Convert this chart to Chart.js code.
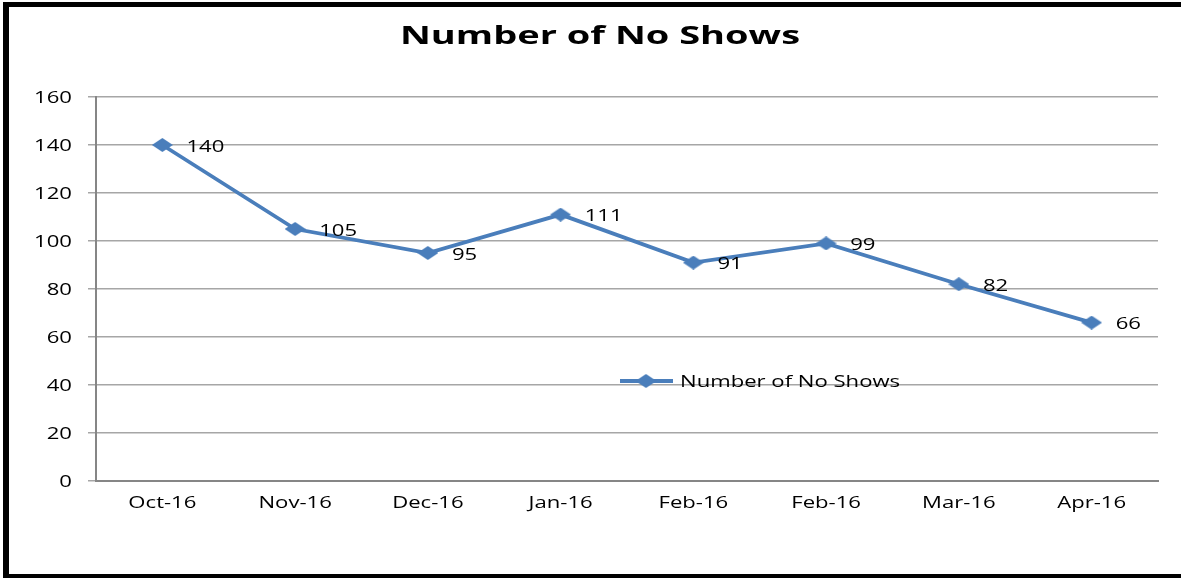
<!DOCTYPE html>
<html>
<head>
<meta charset="utf-8">
<title>Number of No Shows</title>
<script src="https://cdn.jsdelivr.net/npm/chart.js@4"></script>
<style>
  html, body { margin: 0; padding: 0; background: #fff; }
  canvas { display: block; }
</style>
</head>
<body>
<canvas id="graficoNoShows" width="1181" height="578"></canvas>
<script>
const meses = ["Oct-16", "Nov-16", "Dec-16", "Jan-16", "Feb-16", "Feb-16", "Mar-16", "Apr-16"];
const noShows = [140, 105, 95, 111, 91, 99, 82, 66];
const eixoY = { min: 0, max: 160, passo: 20 };
const tituloGrafico = "Number of No Shows";
const nomeSerie = "Number of No Shows";

const azul = "#4a7ebb";
const fonte = "'Open Sans', 'DejaVu Sans', sans-serif";
const fonteTexto = "17px " + fonte;
const largura = 1.3; // textos esticados na horizontal

// marcador em losango, mais largo que alto
function losango(w, h, cor) {
  const c = document.createElement("canvas");
  c.width = w;
  c.height = h;
  const g = c.getContext("2d");
  g.fillStyle = cor;
  g.beginPath();
  g.moveTo(w / 2, 0);
  g.lineTo(w, h / 2);
  g.lineTo(w / 2, h);
  g.lineTo(0, h / 2);
  g.closePath();
  g.fill();
  return c;
}
const marcador = losango(21, 14, azul);

function escrever(ctx, texto, x, y, alinhamento, fonteCss, sx) {
  ctx.save();
  ctx.font = fonteCss;
  ctx.fillStyle = "#000";
  ctx.textAlign = alinhamento;
  ctx.textBaseline = "middle";
  ctx.translate(x, y);
  ctx.scale(sx, 1);
  ctx.fillText(texto, 0, 0);
  ctx.restore();
}

// moldura preta em volta
const moldura = {
  id: "moldura",
  afterDraw(chart) {
    const ctx = chart.ctx;
    ctx.save();
    ctx.fillStyle = "#000";
    ctx.fillRect(3, 2, 6, 576);
    ctx.fillRect(3, 2, 1178, 5);
    ctx.fillRect(3, 574, 1178, 4);
    ctx.restore();
  }
};

const titulo = {
  id: "titulo",
  afterDraw(chart) {
    escrever(chart.ctx, tituloGrafico, 600, 37, "center", "bold 25px " + fonte, 1.52);
  }
};

// rótulos dos eixos desenhados a partir das escalas
const rotulosEixos = {
  id: "rotulosEixos",
  afterDraw(chart) {
    const ctx = chart.ctx;
    const sx = chart.scales.x;
    const sy = chart.scales.y;
    sy.ticks.forEach((t, i) => {
      escrever(ctx, String(t.value), sy.right - 24, sy.getPixelForTick(i) + 1, "right", fonteTexto, largura);
    });
    sx.ticks.forEach((t, i) => {
      escrever(ctx, meses[i], sx.getPixelForTick(i), sx.top + 22, "center", fonteTexto, largura);
    });
  }
};

// valores ao lado de cada ponto
const rotulos = {
  id: "rotulos",
  afterDatasetsDraw(chart) {
    const meta = chart.getDatasetMeta(0);
    meta.data.forEach((pt, i) => {
      escrever(chart.ctx, String(chart.data.datasets[0].data[i]), pt.x + 24, pt.y + 2, "left", fonteTexto, largura);
    });
  }
};

// legenda dentro da área do gráfico
const legenda = {
  id: "legenda",
  afterDraw(chart) {
    const ctx = chart.ctx;
    const ds = chart.data.datasets[0];
    const x = 620, y = 381;
    ctx.save();
    ctx.strokeStyle = ds.borderColor;
    ctx.lineWidth = ds.borderWidth;
    ctx.beginPath();
    ctx.moveTo(x, y);
    ctx.lineTo(x + 53, y);
    ctx.stroke();
    ctx.drawImage(marcador, x + 26 - marcador.width / 2, y - marcador.height / 2);
    ctx.restore();
    escrever(ctx, ds.label, x + 60, y + 1, "left", fonteTexto, largura);
  }
};

function criarGrafico() {
  const ctx = document.getElementById("graficoNoShows").getContext("2d");
  new Chart(ctx, {
    type: "line",
    data: {
      labels: meses,
      datasets: [{
        label: nomeSerie,
        data: noShows,
        borderColor: azul,
        backgroundColor: azul,
        borderWidth: 3.8,
        tension: 0,
        fill: false,
        pointStyle: marcador,
        pointRadius: 7,
        pointHoverRadius: 7
      }]
    },
    options: {
      responsive: false,
      animation: false,
      devicePixelRatio: 1,
      layout: { padding: { top: 97, right: 23, bottom: 0, left: 0 } },
      plugins: {
        legend: { display: false },
        title: { display: false },
        tooltip: { enabled: false }
      },
      scales: {
        x: {
          offset: true,
          grid: { display: false, drawTicks: false },
          border: { display: true, color: "#868686", width: 2 },
          ticks: { display: false, autoSkip: false },
          afterFit(scale) { scale.height = 97; }
        },
        y: {
          min: eixoY.min,
          max: eixoY.max,
          grid: {
            color: "#a6a6a6",
            lineWidth: 1.5,
            tickLength: 8,
            tickColor: "#a6a6a6"
          },
          border: { display: true, color: "#868686", width: 2 },
          ticks: { display: false, stepSize: eixoY.passo },
          afterFit(scale) { scale.width = 96; }
        }
      }
    },
    plugins: [moldura, titulo, rotulosEixos, rotulos, legenda]
  });
}

criarGrafico();
</script>
</body>
</html>
